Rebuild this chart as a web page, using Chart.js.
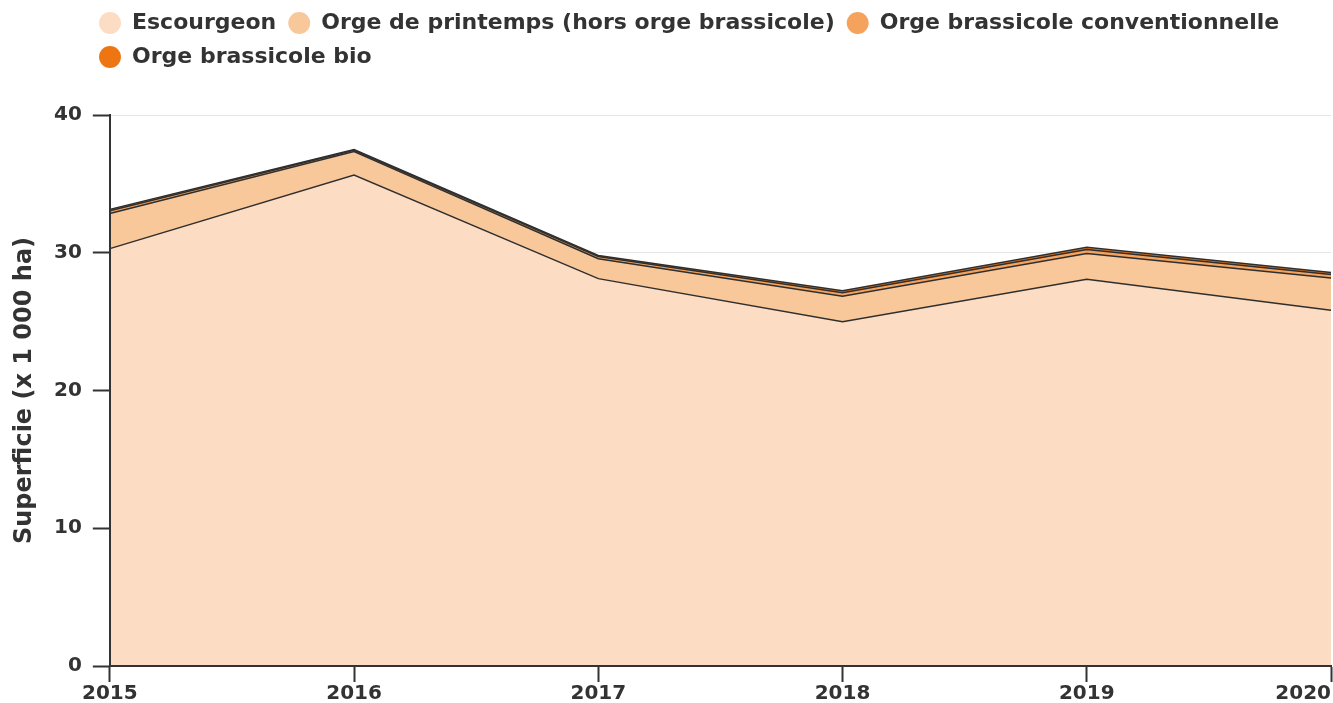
<!DOCTYPE html>
<html>
<head>
<meta charset="utf-8">
<script src="https://cdn.jsdelivr.net/npm/chart.js@4.4.1/dist/chart.umd.min.js"></script>
<style>
html,body{margin:0;padding:0;background:#fff;}
#wrap{width:1333px;height:703px;position:relative;}
</style>
</head>
<body>
<div id="wrap"><canvas id="c"></canvas></div>
<script>
// ---- data ----
const years = ['2015', '2016', '2017', '2018', '2019', '2020'];
const escourgeon     = [30.3, 35.64, 28.12, 25.0, 28.07, 25.82];
const orgePrintemps  = [2.55, 1.7, 1.45, 1.85, 1.87, 2.35];
const brassicoleConv = [0.2, 0.1, 0.15, 0.25, 0.3, 0.25];
const brassicoleBio  = [0.1, 0.05, 0.08, 0.15, 0.15, 0.15];
const yTickValues = [0, 10, 20, 30, 40];
const seriesNames = ['Escourgeon', 'Orge de printemps (hors orge brassicole)', 'Orge brassicole conventionnelle', 'Orge brassicole bio'];
const yTitle = 'Superficie (x 1 000 ha)';

// ---- style ----
const seriesColors = ['#fcdcc3', '#f8c89b', '#f5a35c', '#ee7612'];
const TEXT = '#333333';
const LEGEND_DX = 81;
const LEGEND_EXTRA = 37;

Chart.defaults.font.family = '"DejaVu Sans", sans-serif';
Chart.defaults.font.weight = 'bold';
Chart.defaults.color = TEXT;

const tweaks = {
  id: 'tweaks',
  beforeUpdate(chart) {
    const lg = chart.legend;
    if (lg && !lg.__tw) {
      lg.__tw = true;
      const fit = lg.fit;
      lg.fit = function () { fit.apply(this, arguments); this.height += LEGEND_EXTRA; };
      const draw = lg.draw;
      lg.draw = function () {
        const c = this.ctx; c.save(); c.translate(LEGEND_DX, 0);
        draw.apply(this, arguments); c.restore();
      };
    }
  },
  beforeDraw(chart) {
    const s = chart.scales.x;
    const items = s.getLabelItems();
    if (items.length) items[0].options.textAlign = 'center';
  }
};

const seriesData = [escourgeon, orgePrintemps, brassicoleConv, brassicoleBio];

new Chart(document.getElementById('c'), {
  type: 'line',
  data: {
    labels: years,
    datasets: seriesNames.map((name, i) => ({
      label: name,
      data: seriesData[i],
      backgroundColor: seriesColors[i],
      borderColor: '#2f2f2f',
      borderWidth: 1.5,
      fill: i === 0 ? 'origin' : '-1',
      pointRadius: 0,
      pointHoverRadius: 0,
      tension: 0
    }))
  },
  options: {
    responsive: true,
    maintainAspectRatio: false,
    animation: false,
    layout: { padding: { left: 6, right: 2, top: 0, bottom: -3 } },
    plugins: {
      tooltip: { enabled: false },
      legend: {
        position: 'top',
        align: 'start',
        labels: {
          usePointStyle: true,
          pointStyle: 'circle',
          boxWidth: 22,
          boxHeight: 15.5,
          padding: 12,
          color: TEXT,
          font: { size: 22, weight: 'bold' },
          generateLabels(chart) {
            const items = Chart.defaults.plugins.legend.labels.generateLabels(chart);
            items.forEach(it => { it.strokeStyle = it.fillStyle; it.lineWidth = 0; });
            return items;
          }
        }
      }
    },
    scales: {
      x: {
        type: 'category',
        offset: false,
        grid: { display: true, drawOnChartArea: false, drawTicks: true, tickLength: 16, tickColor: '#333', tickWidth: 2, color: '#333' },
        border: { display: true, color: '#333', width: 2, z: 1 },
        ticks: { align: 'inner', padding: 2, color: TEXT, autoSkip: false, maxRotation: 0, font: { size: 20, weight: 'bold', lineHeight: 1 } }
      },
      y: {
        stacked: true,
        min: yTickValues[0],
        max: yTickValues[yTickValues.length - 1],
        afterBuildTicks(scale) { scale.ticks = yTickValues.map(v => ({ value: v })); },
        grid: { color: '#e6e6e6', lineWidth: 1, tickColor: '#333', tickWidth: 2, tickLength: 17 },
        border: { display: true, color: '#333', width: 2, z: 1 },
        ticks: { padding: 11, color: TEXT, font: { size: 20, weight: 'bold' } },
        title: {
          display: true,
          text: yTitle,
          color: TEXT,
          font: { size: 24, weight: 'bold', lineHeight: 1 },
          padding: { top: 7, bottom: 6 }
        }
      }
    }
  },
  plugins: [tweaks]
});
</script>
</body>
</html>
